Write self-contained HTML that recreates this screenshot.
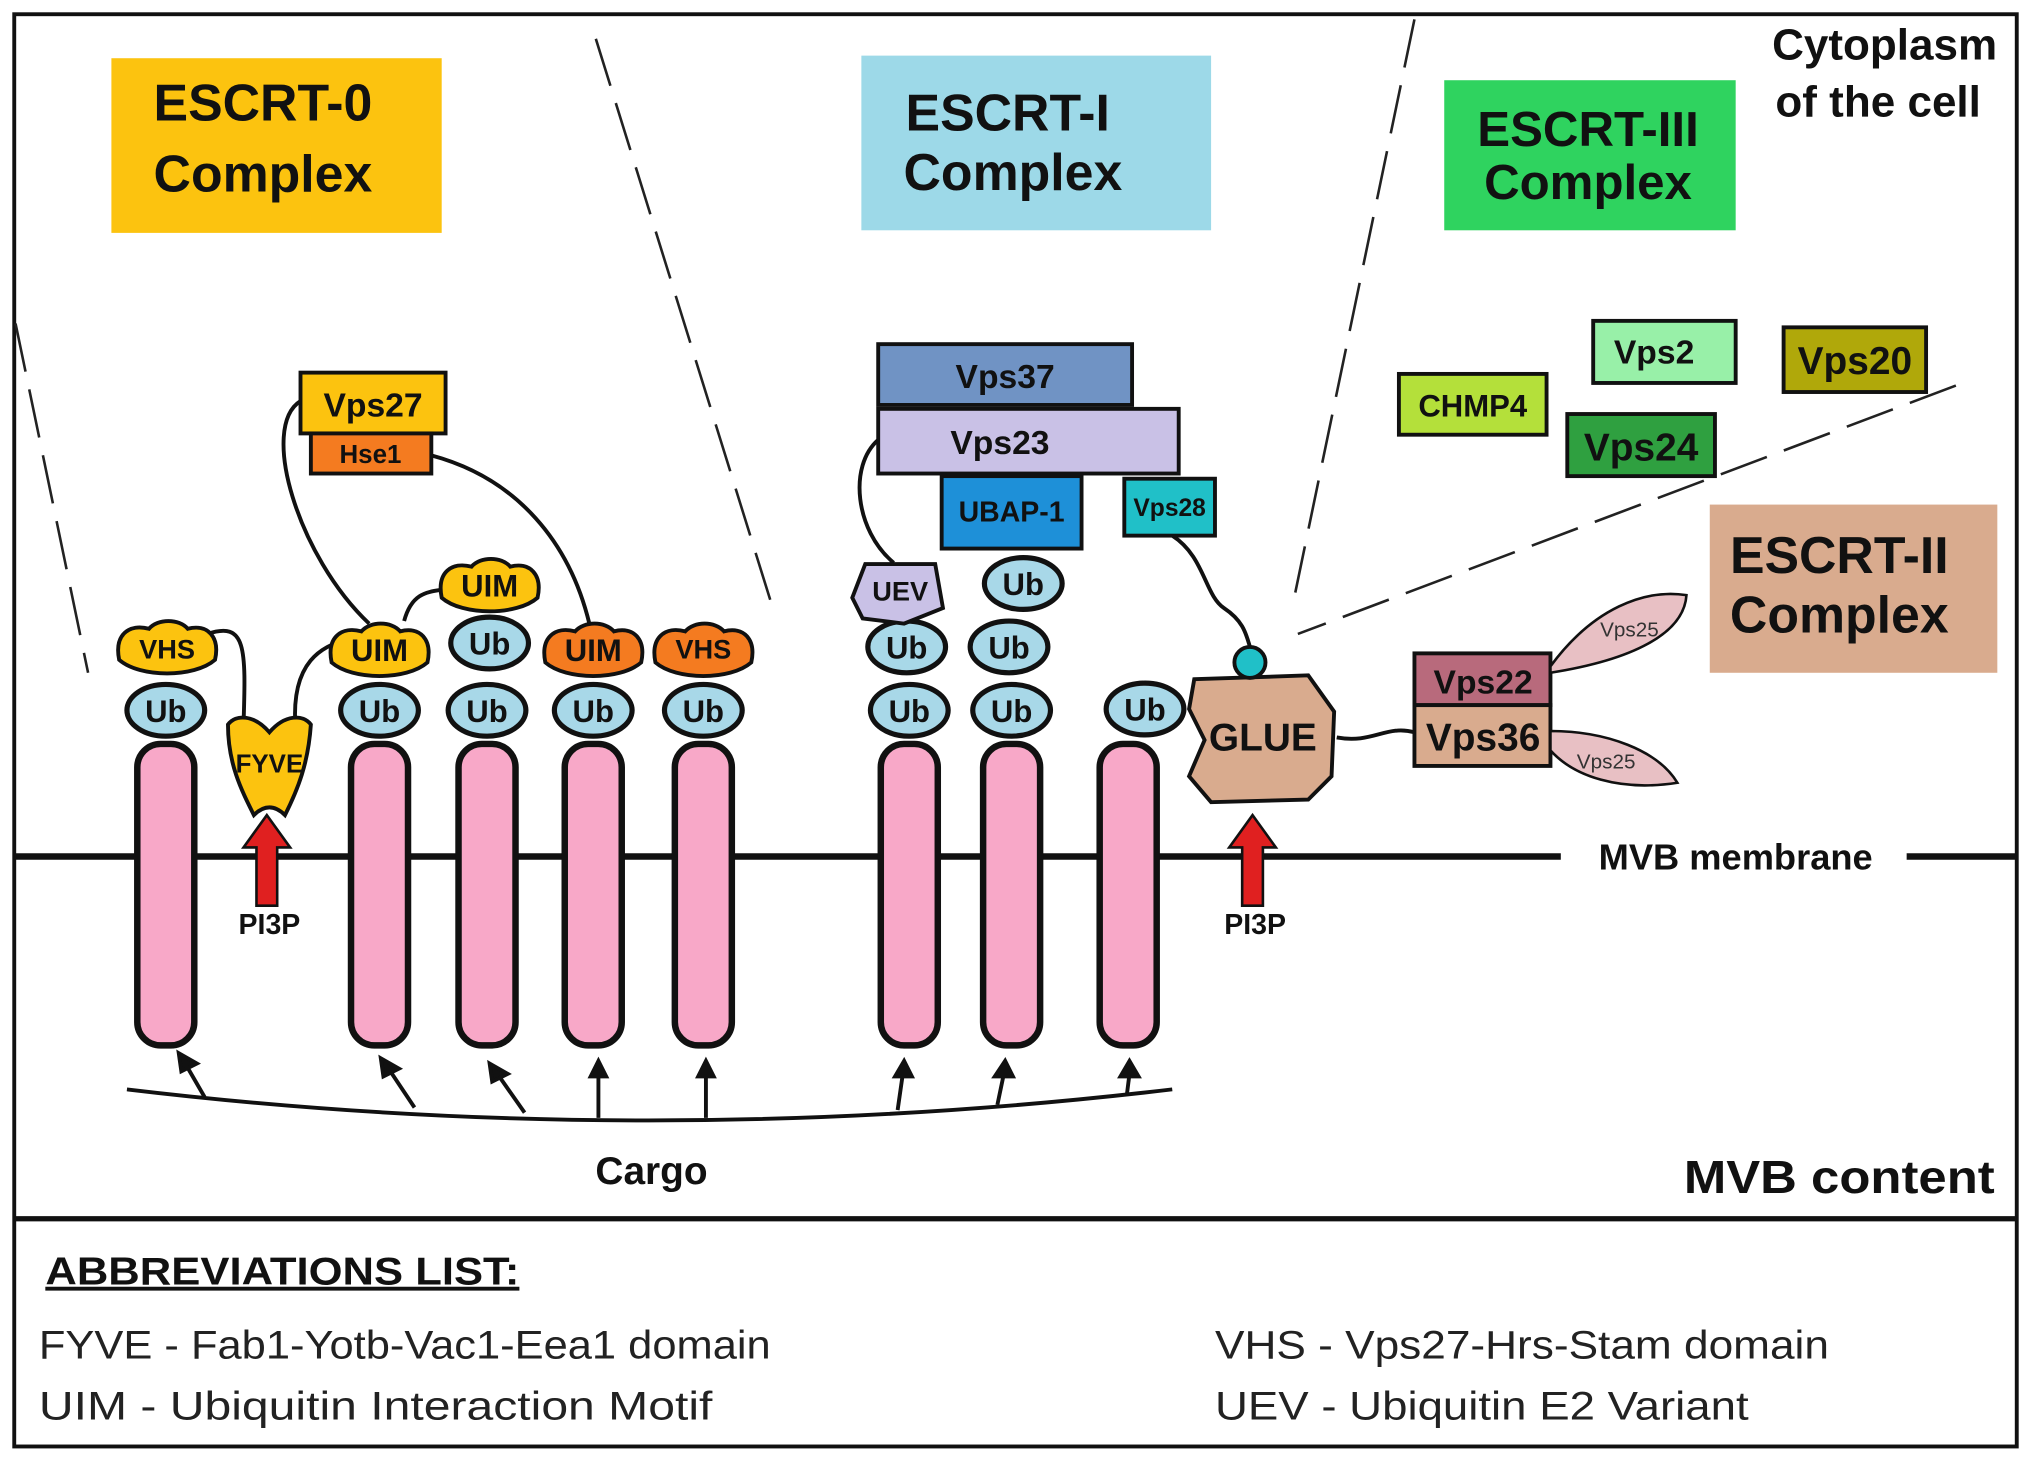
<!DOCTYPE html>
<html><head><meta charset="utf-8"><style>
html,body{margin:0;padding:0;background:#fff;}
svg{display:block;}
text{font-family:"Liberation Sans",sans-serif;}
</style></head><body>
<svg width="2031" height="1462" viewBox="0 0 1568 1130" preserveAspectRatio="none" xmlns="http://www.w3.org/2000/svg">
<rect x="0" y="0" width="1568" height="1130" fill="#fff"/>
<rect x="11" y="11" width="1546" height="1107" fill="none" stroke="#111" stroke-width="3"/>
<line x1="11" y1="942" x2="1557" y2="942" stroke="#111" stroke-width="4"/>
<g stroke="#222" stroke-width="2" stroke-dasharray="38,14" fill="none">
<line x1="12" y1="250" x2="68" y2="520"/>
<line x1="460" y1="30" x2="596" y2="468"/>
<line x1="1092" y1="15" x2="1000" y2="458"/>
<line x1="1510" y1="298" x2="1002" y2="490"/>
</g>
<line x1="11" y1="662" x2="1205" y2="662" stroke="#111" stroke-width="5"/>
<line x1="1472" y1="662" x2="1557" y2="662" stroke="#111" stroke-width="5"/>
<text x="1340" y="672" font-size="28" font-weight="bold" text-anchor="middle" fill="#111">MVB membrane</text>
<rect x="86" y="45" width="255" height="135" fill="#fcc30f"/>
<text x="203" y="93" font-size="40" font-weight="bold" text-anchor="middle" fill="#111">ESCRT-0</text>
<text x="203" y="148" font-size="40" font-weight="bold" text-anchor="middle" fill="#111">Complex</text>
<rect x="665" y="43" width="270" height="135" fill="#9dd9e8"/>
<text x="778" y="101" font-size="40" font-weight="bold" text-anchor="middle" fill="#111">ESCRT-I</text>
<text x="782" y="147" font-size="40" font-weight="bold" text-anchor="middle" fill="#111">Complex</text>
<rect x="1115" y="62" width="225" height="116" fill="#2fd35f"/>
<text x="1226" y="113" font-size="38" font-weight="bold" text-anchor="middle" fill="#111">ESCRT-III</text>
<text x="1226" y="154" font-size="38" font-weight="bold" text-anchor="middle" fill="#111">Complex</text>
<rect x="1320" y="390" width="222" height="130" fill="#d9ab8e"/>
<text x="1420" y="443" font-size="40" font-weight="bold" text-anchor="middle" fill="#111">ESCRT-II</text>
<text x="1420" y="489" font-size="40" font-weight="bold" text-anchor="middle" fill="#111">Complex</text>
<text x="1455" y="46" font-size="34" font-weight="bold" text-anchor="middle" fill="#111">Cytoplasm</text>
<text x="1450" y="90" font-size="34" font-weight="bold" text-anchor="middle" fill="#111">of the cell</text>
<g stroke="#111" stroke-width="3" fill="none">
<path d="M160,490 C190,480 190,500 188,560"/>
<path d="M228,560 C225,510 250,500 265,495"/>
<path d="M232,310 C200,330 230,430 285,482"/>
<path d="M312,480 C320,450 340,460 355,452"/>
<path d="M333,352 C400,370 440,420 455,482"/>
<path d="M678,340 C655,360 660,410 690,435"/>
<path d="M905,414 C930,430 930,460 945,470 C960,480 962,490 965,500"/>
<path d="M1032,570 C1060,575 1070,560 1092,566"/>
<path d="M98,842 Q500,890 905,842"/>
</g>
<g stroke="#111" stroke-width="3">
<rect x="232" y="288" width="112" height="47" fill="#fcc30f"/>
<rect x="240" y="335" width="93" height="31" fill="#f47b20"/>
<rect x="678" y="266" width="196" height="47" fill="#7093c4"/>
<rect x="678" y="316" width="232" height="50" fill="#c9c1e6"/>
<rect x="727" y="368" width="108" height="56" fill="#1e90d8"/>
<rect x="868" y="370" width="70" height="44" fill="#20c0c8"/>
<rect x="1080" y="289" width="114" height="47" fill="#b4e03a"/>
<rect x="1230" y="248" width="110" height="48" fill="#98f0a8"/>
<rect x="1377" y="253" width="110" height="50" fill="#b0a80a"/>
<rect x="1210" y="320" width="114" height="48" fill="#2fa040"/>
<rect x="1092" y="505" width="105" height="40" fill="#b86a7c"/>
<rect x="1092" y="545" width="105" height="47" fill="#d9ab8e"/>
</g>
<g font-weight="bold" text-anchor="middle" fill="#111">
<text x="288" y="322" font-size="26">Vps27</text>
<text x="286" y="358" font-size="20">Hse1</text>
<text x="776" y="300" font-size="26">Vps37</text>
<text x="772" y="351" font-size="26">Vps23</text>
<text x="781" y="403" font-size="22">UBAP-1</text>
<text x="903" y="399" font-size="19">Vps28</text>
<text x="1137" y="322" font-size="24">CHMP4</text>
<text x="1277" y="281" font-size="26">Vps2</text>
<text x="1432" y="289" font-size="30">Vps20</text>
<text x="1267" y="356" font-size="30">Vps24</text>
<text x="1145" y="536" font-size="26">Vps22</text>
<text x="1145" y="580" font-size="30">Vps36</text>
</g>
<g stroke="#111" stroke-width="2" fill="#e8c0c4">
<path d="M1197,515 C1230,470 1270,455 1302,460 C1300,490 1260,510 1197,520 Z"/>
<path d="M1197,565 C1240,565 1280,580 1295,605 C1250,612 1215,600 1197,580 Z"/>
</g>
<text x="1258" y="492" font-size="16" text-anchor="middle" fill="#333">Vps25</text>
<text x="1240" y="594" font-size="16" text-anchor="middle" fill="#333">Vps25</text>
<g stroke="#111" stroke-width="5" fill="#f8a8c8">
<rect x="106" y="575" width="44" height="233" rx="18"/>
<rect x="271" y="575" width="44" height="233" rx="18"/>
<rect x="354" y="575" width="44" height="233" rx="18"/>
<rect x="436" y="575" width="44" height="233" rx="18"/>
<rect x="521" y="575" width="44" height="233" rx="18"/>
<rect x="680" y="575" width="44" height="233" rx="18"/>
<rect x="759" y="575" width="44" height="233" rx="18"/>
<rect x="849" y="575" width="44" height="233" rx="18"/>
</g>
<g stroke="#111" stroke-width="3" fill="#111">
<line x1="158" y1="848" x2="143" y2="822"/><polygon points="138,814 152,822 140,828"/>
<line x1="320" y1="856" x2="300" y2="826"/><polygon points="294,818 308,826 296,832"/>
<line x1="405" y1="860" x2="384" y2="830"/><polygon points="378,822 392,830 380,836"/>
<line x1="462" y1="864" x2="462" y2="830"/><polygon points="456,832 462,820 468,832"/>
<line x1="545" y1="864" x2="545" y2="830"/><polygon points="539,832 545,820 551,832"/>
<line x1="693" y1="858" x2="697" y2="830"/><polygon points="691,832 698,820 704,832"/>
<line x1="770" y1="854" x2="775" y2="830"/><polygon points="768,832 776,820 782,832"/>
<line x1="870" y1="846" x2="872" y2="830"/><polygon points="865,832 872,820 879,832"/>
</g>
<text x="503" y="915" font-size="30" font-weight="bold" text-anchor="middle" fill="#111">Cargo</text>
<text x="1420" y="922" font-size="36" font-weight="bold" text-anchor="middle" fill="#111" textLength="240" lengthAdjust="spacingAndGlyphs">MVB content</text>
<g stroke="#111" stroke-width="4" fill="#a8d8e8">
<ellipse cx="128" cy="549" rx="30" ry="20"/>
<ellipse cx="293" cy="549" rx="30" ry="20"/>
<ellipse cx="376" cy="549" rx="30" ry="20"/>
<ellipse cx="458" cy="549" rx="30" ry="20"/>
<ellipse cx="543" cy="549" rx="30" ry="20"/>
<ellipse cx="702" cy="549" rx="30" ry="20"/>
<ellipse cx="781" cy="549" rx="30" ry="20"/>
<ellipse cx="884" cy="548" rx="30" ry="20"/>
<ellipse cx="378" cy="497" rx="30" ry="20"/>
<ellipse cx="700" cy="500" rx="30" ry="20"/>
<ellipse cx="779" cy="500" rx="30" ry="20"/>
<ellipse cx="790" cy="451" rx="30" ry="20"/>
</g>
<g font-size="24" font-weight="bold" text-anchor="middle" fill="#111">
<text x="128" y="558">Ub</text><text x="293" y="558">Ub</text><text x="376" y="558">Ub</text><text x="458" y="558">Ub</text><text x="543" y="558">Ub</text><text x="702" y="558">Ub</text><text x="781" y="558">Ub</text><text x="884" y="557">Ub</text><text x="378" y="506">Ub</text><text x="700" y="509">Ub</text><text x="779" y="509">Ub</text><text x="790" y="460">Ub</text>
</g>
<g stroke="#111" stroke-width="3">
<path d="M92,510 C88,490 100,482 115,486 C122,478 138,478 145,486 C160,482 170,492 166,510 C150,524 108,524 92,510 Z" fill="#fcc30f"/>
<path d="M256,512 C252,492 264,484 279,488 C286,480 302,480 309,488 C324,484 334,494 330,512 C314,526 272,526 256,512 Z" fill="#fcc30f"/>
<path d="M341,462 C337,442 349,434 364,438 C371,430 387,430 394,438 C409,434 419,444 415,462 C399,476 357,476 341,462 Z" fill="#fcc30f"/>
<path d="M421,512 C417,492 429,484 444,488 C451,480 467,480 474,488 C489,484 499,494 495,512 C479,526 437,526 421,512 Z" fill="#f47b20"/>
<path d="M506,512 C502,492 514,484 529,488 C536,480 552,480 559,488 C574,484 584,494 580,512 C564,526 522,526 506,512 Z" fill="#f47b20"/>
<path d="M658,462 L668,436 L722,436 L728,470 L698,482 L666,478 Z" fill="#c9c1e6"/>
<path d="M176,560 C182,552 196,552 208,566 C220,552 234,552 240,560 C238,590 230,610 220,630 C212,622 204,622 196,630 C186,610 176,590 176,560 Z" fill="#fcc30f"/>
<path d="M922,525 L1010,522 L1030,550 L1028,600 L1010,618 L935,620 L918,600 L930,572 L918,548 Z" fill="#d9ab8e"/>
<circle cx="965" cy="512" r="12" fill="#20c0c8"/>
</g>
<g font-weight="bold" text-anchor="middle" fill="#111">
<text x="129" y="509" font-size="21">VHS</text>
<text x="293" y="511" font-size="24">UIM</text>
<text x="378" y="461" font-size="24">UIM</text>
<text x="458" y="511" font-size="24">UIM</text>
<text x="543" y="509" font-size="21">VHS</text>
<text x="695" y="464" font-size="21">UEV</text>
<text x="208" y="597" font-size="20">FYVE</text>
<text x="975" y="580" font-size="30">GLUE</text>
</g>
<g fill="#e02020" stroke="#111" stroke-width="2">
<polygon points="198,700 214,700 214,655 224,655 206,630 188,655 198,655"/>
<polygon points="959,700 975,700 975,655 985,655 967,630 949,655 959,655"/>
</g>
<text x="208" y="722" font-size="22" font-weight="bold" text-anchor="middle" fill="#111">PI3P</text>
<text x="969" y="722" font-size="22" font-weight="bold" text-anchor="middle" fill="#111">PI3P</text>
<text x="35" y="993" font-size="30" font-weight="bold" fill="#111" text-decoration="underline" textLength="366" lengthAdjust="spacingAndGlyphs">ABBREVIATIONS LIST:</text>
<g font-size="31" fill="#222">
<text x="30" y="1050" textLength="565" lengthAdjust="spacingAndGlyphs">FYVE - Fab1-Yotb-Vac1-Eea1 domain</text>
<text x="30" y="1097" textLength="520" lengthAdjust="spacingAndGlyphs">UIM - Ubiquitin Interaction Motif</text>
<text x="938" y="1050" textLength="474" lengthAdjust="spacingAndGlyphs">VHS -  Vps27-Hrs-Stam domain</text>
<text x="938" y="1097" textLength="412" lengthAdjust="spacingAndGlyphs">UEV -  Ubiquitin E2 Variant</text>
</g>
</svg>
</body></html>
